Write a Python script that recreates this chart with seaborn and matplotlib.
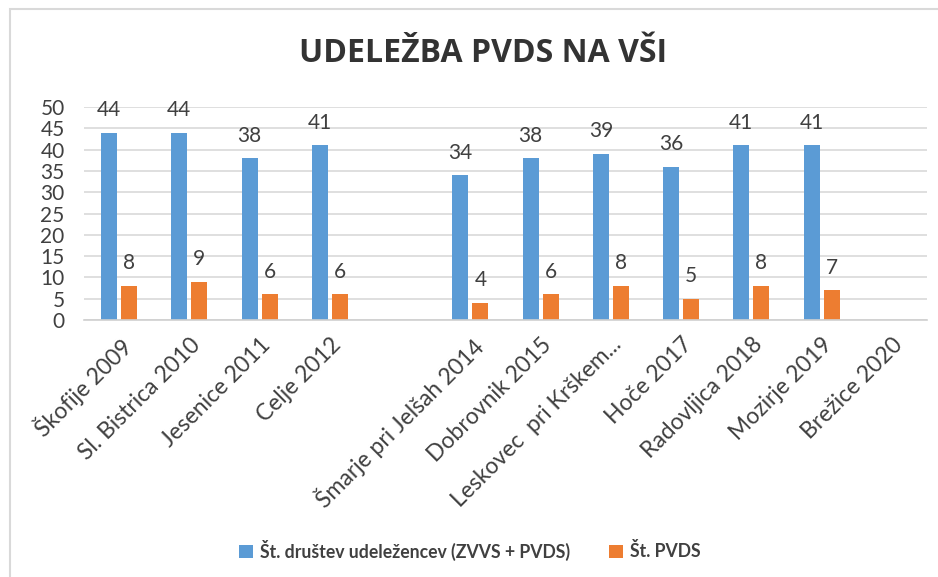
import numpy as np
import pandas as pd
import matplotlib
matplotlib.use("Agg")
import matplotlib.pyplot as plt
from matplotlib.patches import Rectangle, Patch
import seaborn as sns

# data
categories = ["Škofije 2009", "Sl. Bistrica 2010", "Jesenice 2011", "Celje 2012", "",
              "Šmarje pri Jelšah 2014", "Dobrovnik 2015", "Leskovec  pri Krškem...",
              "Hoče 2017", "Radovljica 2018", "Mozirje 2019", "Brežice 2020"]
udelezenci = [44, 44, 38, 41, np.nan, 34, 38, 39, 36, 41, 41, np.nan]
pvds = [8, 9, 6, 6, np.nan, 4, 6, 8, 5, 8, 7, np.nan]
series = ["Št. društev udeležencev (ZVVS + PVDS)", "Št. PVDS"]
colors = ["#5B9BD5", "#ED7D31"]

df = pd.DataFrame({
    "kraj": categories * 2,
    "vrednost": udelezenci + pvds,
    "serija": [series[0]] * len(categories) + [series[1]] * len(categories),
})

sns.set_style("white")
plt.rcParams["font.family"] = ["Lato", "DejaVu Sans"]
text_col = "#404040"

fig = plt.figure(figsize=(9.38, 5.77), dpi=100)
ax = fig.add_axes([84 / 938, 1 - 320 / 577, (927 - 84) / 938, (320 - 107) / 577])

sns.barplot(data=df, x="kraj", y="vrednost", hue="serija", order=categories,
            hue_order=series, palette=colors, width=0.57, gap=0.2,
            linewidth=0, saturation=1, errorbar=None, legend=False, ax=ax)

for cont in ax.containers:
    ax.bar_label(cont, fmt="%.0f", padding=9, fontsize=15, color=text_col)

ax.set_ylim(0, 50)
ax.set_xlim(-0.5, len(categories) - 0.5)
ax.set_yticks(range(0, 51, 5))
ax.yaxis.grid(True, color="#d9d9d9", linewidth=1.2)
ax.set_axisbelow(True)
for s in ["left", "right", "top"]:
    ax.spines[s].set_visible(False)
ax.spines["bottom"].set_color("#d0d0d0")
ax.spines["bottom"].set_linewidth(1.2)
ax.set_xlabel("")
ax.set_ylabel("")
ax.tick_params(axis="y", length=0, pad=14, labelsize=15, labelcolor=text_col)
ax.set_xticks(np.arange(len(categories)))
ax.set_xticklabels(categories, rotation=45, ha="right", rotation_mode="anchor",
                   fontsize=16.5, color=text_col)
ax.tick_params(axis="x", which="major", length=0, pad=10)
ax.set_xticks(np.arange(-0.5, len(categories)), minor=True)
ax.tick_params(axis="x", which="minor", length=5, color="#d0d0d0", width=1.2)

fig.text(483 / 938, 1 - 53 / 577, "UDELEŽBA PVDS NA VŠI", ha="center", va="center",
         fontsize=23, fontweight="bold", color="#333333", family="Open Sans")

handles = [Patch(facecolor=c, edgecolor="none") for c in colors]
fig.legend(handles, series, loc="center", bbox_to_anchor=(470 / 938, 1 - 550 / 577),
           ncol=2, frameon=False, handlelength=0.8, handleheight=0.8,
           handletextpad=0.4, columnspacing=2.2,
           prop={"size": 12.7, "weight": "bold"}, labelcolor=text_col)

fig.patches.append(Rectangle((10 / 938, -0.1), 1.2, 1.1 - 9 / 577,
                             transform=fig.transFigure, fill=False,
                             edgecolor="#d9d9d9", linewidth=1.5))

fig.savefig("out.png", dpi=100)
